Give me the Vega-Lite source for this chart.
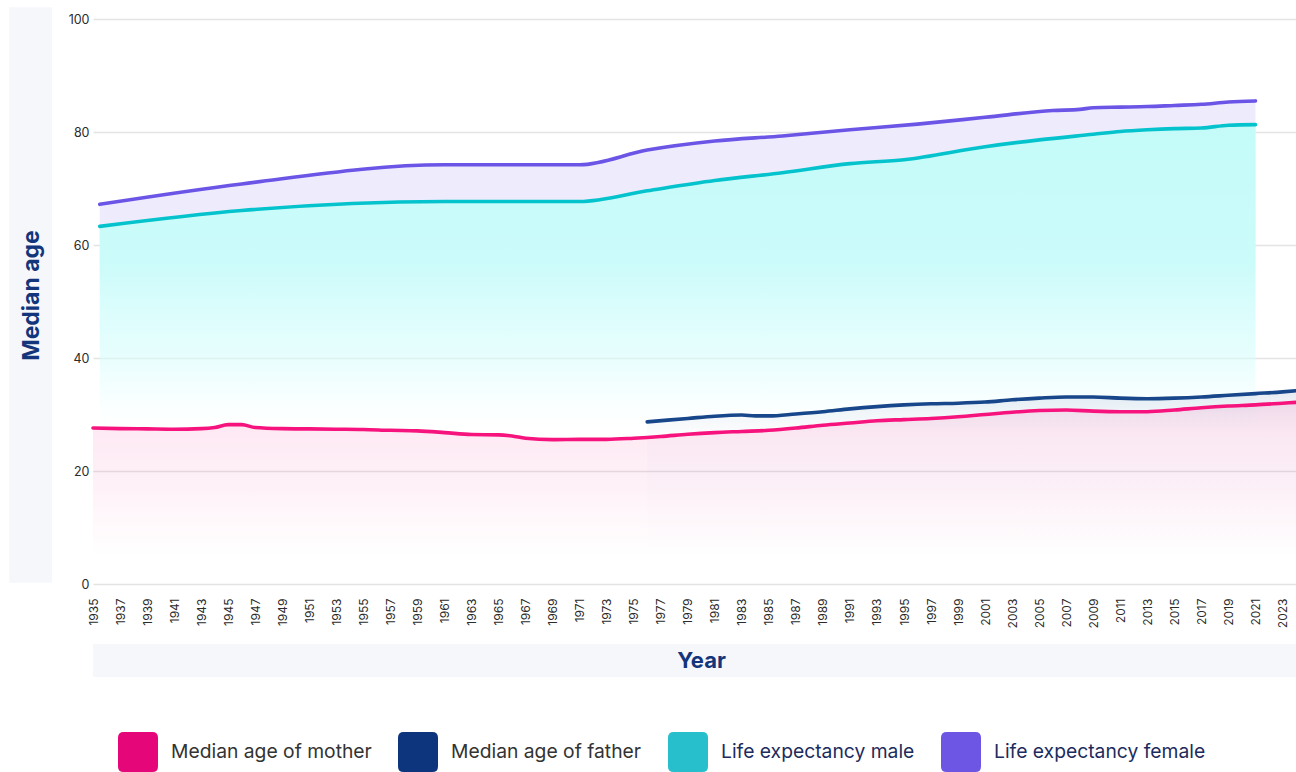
{
  "$schema": "https://vega.github.io/schema/vega-lite/v6.json",
  "width": 1203,
  "height": 565,
  "autosize": {"type": "none"},
  "padding": {"left": 93, "top": 19, "right": 0, "bottom": 188},
  "background": "white",
  "config": {
    "view": {"stroke": null},
    "font": "Inter",
    "axis": {"titleFont": "Inter", "labelOverlap": false},
    "axisX": {"labelOverlap": false}
  },
  "layer": [
    {
      "data": {"values": [{"band": "x"}]},
      "mark": {"type": "rect", "fill": "#2a3f9a", "fillOpacity": 0.045, "clip": false},
      "encoding": {
        "x": {"datum": 1935, "type": "quantitative", "title": "Year", "scale": {"domain": [1935, 2024], "nice": false, "zero": false},
          "axis": {
            "values": [1935,1937,1939,1941,1943,1945,1947,1949,1951,1953,1955,1957,1959,1961,1963,1965,1967,1969,1971,1973,1975,1977,1979,1981,1983,1985,1987,1989,1991,1993,1995,1997,1999,2001,2003,2005,2007,2009,2011,2013,2015,2017,2019,2021,2023],
            "format": "d", "grid": false, "domain": false, "ticks": false, "labelAngle": -90, "labelAlign": "right", "labelBaseline": "middle",
            "labelPadding": 14, "labelFontSize": 12, "labelColor": "#2b2b2b", "labelOverlap": false, "labelFlush": false,
            "titleFontSize": 22, "titleFontWeight": "bold", "titleColor": "#12357a", "titleX": 608, "titleY": 76, "titleBaseline": "middle", "titleAnchor": "middle"
          }
        },
        "x2": {"datum": 2024},
        "y": {"datum": -10.6, "type": "quantitative", "title": "Median age", "scale": {"domain": [0, 100], "nice": false},
          "axis": {
            "values": [0, 20, 40, 60, 80, 100], "grid": true, "gridColor": "#e4e4e4", "gridWidth": 1.6, "domain": false, "ticks": false,
            "labelPadding": 4, "labelFontSize": 12.5, "labelColor": "#2b2b2b", "labelOverlap": false,
            "titleFontSize": 23, "titleFontWeight": "bold", "titleColor": "#12357a", "titleAngle": -90, "titleX": -62, "titleY": 276, "titleBaseline": "middle", "titleAlign": "center"
          }
        },
        "y2": {"datum": -16.46}
      }
    },
    {
      "data": {"values": [{"band": "y"}]},
      "mark": {"type": "rect", "fill": "#2a3f9a", "fillOpacity": 0.045, "clip": false},
      "encoding": {
        "x": {"datum": 1928.8, "type": "quantitative", "title": "Year", "scale": {"domain": [1935, 2024], "nice": false, "zero": false},
          "axis": {
            "values": [1935,1937,1939,1941,1943,1945,1947,1949,1951,1953,1955,1957,1959,1961,1963,1965,1967,1969,1971,1973,1975,1977,1979,1981,1983,1985,1987,1989,1991,1993,1995,1997,1999,2001,2003,2005,2007,2009,2011,2013,2015,2017,2019,2021,2023],
            "format": "d", "grid": false, "domain": false, "ticks": false, "labelAngle": -90, "labelAlign": "right", "labelBaseline": "middle",
            "labelPadding": 14, "labelFontSize": 12, "labelColor": "#2b2b2b", "labelOverlap": false, "labelFlush": false,
            "titleFontSize": 22, "titleFontWeight": "bold", "titleColor": "#12357a", "titleX": 608, "titleY": 76, "titleBaseline": "middle", "titleAnchor": "middle"
          }
        },
        "x2": {"datum": 1931.97},
        "y": {"datum": 102.1, "type": "quantitative", "title": "Median age", "scale": {"domain": [0, 100], "nice": false},
          "axis": {
            "values": [0, 20, 40, 60, 80, 100], "grid": true, "gridColor": "#e4e4e4", "gridWidth": 1.6, "domain": false, "ticks": false,
            "labelPadding": 4, "labelFontSize": 12.5, "labelColor": "#2b2b2b", "labelOverlap": false,
            "titleFontSize": 23, "titleFontWeight": "bold", "titleColor": "#12357a", "titleAngle": -90, "titleX": -62, "titleY": 276, "titleBaseline": "middle", "titleAlign": "center"
          }
        },
        "y2": {"datum": 0.2}
      }
    },
    {
      "data": {
        "values": [
          {"year": 1935, "series": "Median age of mother", "value": 27.6},
          {"year": 1937, "series": "Median age of mother", "value": 27.5},
          {"year": 1939, "series": "Median age of mother", "value": 27.45},
          {"year": 1941, "series": "Median age of mother", "value": 27.4},
          {"year": 1943, "series": "Median age of mother", "value": 27.5},
          {"year": 1944, "series": "Median age of mother", "value": 27.7},
          {"year": 1945, "series": "Median age of mother", "value": 28.2},
          {"year": 1946, "series": "Median age of mother", "value": 28.2},
          {"year": 1947, "series": "Median age of mother", "value": 27.7},
          {"year": 1949, "series": "Median age of mother", "value": 27.5},
          {"year": 1951, "series": "Median age of mother", "value": 27.45},
          {"year": 1953, "series": "Median age of mother", "value": 27.4},
          {"year": 1955, "series": "Median age of mother", "value": 27.35},
          {"year": 1957, "series": "Median age of mother", "value": 27.2},
          {"year": 1959, "series": "Median age of mother", "value": 27.1},
          {"year": 1961, "series": "Median age of mother", "value": 26.8},
          {"year": 1963, "series": "Median age of mother", "value": 26.45},
          {"year": 1965, "series": "Median age of mother", "value": 26.4},
          {"year": 1966, "series": "Median age of mother", "value": 26.2},
          {"year": 1967, "series": "Median age of mother", "value": 25.8},
          {"year": 1969, "series": "Median age of mother", "value": 25.55},
          {"year": 1971, "series": "Median age of mother", "value": 25.6},
          {"year": 1973, "series": "Median age of mother", "value": 25.6},
          {"year": 1975, "series": "Median age of mother", "value": 25.8},
          {"year": 1977, "series": "Median age of mother", "value": 26.1},
          {"year": 1979, "series": "Median age of mother", "value": 26.5},
          {"year": 1981, "series": "Median age of mother", "value": 26.8},
          {"year": 1983, "series": "Median age of mother", "value": 27.0},
          {"year": 1985, "series": "Median age of mother", "value": 27.2},
          {"year": 1987, "series": "Median age of mother", "value": 27.6},
          {"year": 1989, "series": "Median age of mother", "value": 28.1},
          {"year": 1991, "series": "Median age of mother", "value": 28.5},
          {"year": 1993, "series": "Median age of mother", "value": 28.9},
          {"year": 1995, "series": "Median age of mother", "value": 29.1},
          {"year": 1997, "series": "Median age of mother", "value": 29.3},
          {"year": 1999, "series": "Median age of mother", "value": 29.6},
          {"year": 2001, "series": "Median age of mother", "value": 30.0},
          {"year": 2003, "series": "Median age of mother", "value": 30.4},
          {"year": 2005, "series": "Median age of mother", "value": 30.7},
          {"year": 2007, "series": "Median age of mother", "value": 30.8},
          {"year": 2009, "series": "Median age of mother", "value": 30.6},
          {"year": 2011, "series": "Median age of mother", "value": 30.5},
          {"year": 2013, "series": "Median age of mother", "value": 30.5},
          {"year": 2015, "series": "Median age of mother", "value": 30.8},
          {"year": 2017, "series": "Median age of mother", "value": 31.2},
          {"year": 2019, "series": "Median age of mother", "value": 31.5},
          {"year": 2021, "series": "Median age of mother", "value": 31.7},
          {"year": 2023, "series": "Median age of mother", "value": 32.0},
          {"year": 2024, "series": "Median age of mother", "value": 32.15},
          {"year": 1976, "series": "Median age of father", "value": 28.7},
          {"year": 1979, "series": "Median age of father", "value": 29.3},
          {"year": 1981, "series": "Median age of father", "value": 29.7},
          {"year": 1983, "series": "Median age of father", "value": 29.9},
          {"year": 1984, "series": "Median age of father", "value": 29.75},
          {"year": 1985, "series": "Median age of father", "value": 29.75},
          {"year": 1987, "series": "Median age of father", "value": 30.1},
          {"year": 1989, "series": "Median age of father", "value": 30.5},
          {"year": 1991, "series": "Median age of father", "value": 31.0},
          {"year": 1993, "series": "Median age of father", "value": 31.4},
          {"year": 1995, "series": "Median age of father", "value": 31.7},
          {"year": 1997, "series": "Median age of father", "value": 31.9},
          {"year": 1999, "series": "Median age of father", "value": 32.0},
          {"year": 2001, "series": "Median age of father", "value": 32.2},
          {"year": 2003, "series": "Median age of father", "value": 32.6},
          {"year": 2005, "series": "Median age of father", "value": 32.9},
          {"year": 2007, "series": "Median age of father", "value": 33.1},
          {"year": 2009, "series": "Median age of father", "value": 33.1},
          {"year": 2011, "series": "Median age of father", "value": 32.9},
          {"year": 2013, "series": "Median age of father", "value": 32.8},
          {"year": 2015, "series": "Median age of father", "value": 32.9},
          {"year": 2017, "series": "Median age of father", "value": 33.1},
          {"year": 2019, "series": "Median age of father", "value": 33.4},
          {"year": 2021, "series": "Median age of father", "value": 33.7},
          {"year": 2023, "series": "Median age of father", "value": 34.0},
          {"year": 2024, "series": "Median age of father", "value": 34.2},
          {"year": 1935.5, "series": "Life expectancy male", "value": 63.3},
          {"year": 1946, "series": "Life expectancy male", "value": 66.1},
          {"year": 1961, "series": "Life expectancy male", "value": 67.7},
          {"year": 1971, "series": "Life expectancy male", "value": 67.7},
          {"year": 1976, "series": "Life expectancy male", "value": 69.6},
          {"year": 1981, "series": "Life expectancy male", "value": 71.4},
          {"year": 1986, "series": "Life expectancy male", "value": 72.8},
          {"year": 1991, "series": "Life expectancy male", "value": 74.4},
          {"year": 1995, "series": "Life expectancy male", "value": 75.1},
          {"year": 2001, "series": "Life expectancy male", "value": 77.4},
          {"year": 2005, "series": "Life expectancy male", "value": 78.6},
          {"year": 2009, "series": "Life expectancy male", "value": 79.6},
          {"year": 2011, "series": "Life expectancy male", "value": 80.1},
          {"year": 2013, "series": "Life expectancy male", "value": 80.4},
          {"year": 2015, "series": "Life expectancy male", "value": 80.6},
          {"year": 2017, "series": "Life expectancy male", "value": 80.7},
          {"year": 2019, "series": "Life expectancy male", "value": 81.2},
          {"year": 2021, "series": "Life expectancy male", "value": 81.3},
          {"year": 1935.5, "series": "Life expectancy female", "value": 67.2},
          {"year": 1946, "series": "Life expectancy female", "value": 70.8},
          {"year": 1961, "series": "Life expectancy female", "value": 74.2},
          {"year": 1971, "series": "Life expectancy female", "value": 74.2},
          {"year": 1976, "series": "Life expectancy female", "value": 76.8},
          {"year": 1981, "series": "Life expectancy female", "value": 78.4},
          {"year": 1986, "series": "Life expectancy female", "value": 79.3},
          {"year": 1991, "series": "Life expectancy female", "value": 80.4},
          {"year": 1996, "series": "Life expectancy female", "value": 81.4},
          {"year": 2001, "series": "Life expectancy female", "value": 82.6},
          {"year": 2006, "series": "Life expectancy female", "value": 83.8},
          {"year": 2008, "series": "Life expectancy female", "value": 84.0},
          {"year": 2009, "series": "Life expectancy female", "value": 84.3},
          {"year": 2011, "series": "Life expectancy female", "value": 84.4},
          {"year": 2013, "series": "Life expectancy female", "value": 84.5},
          {"year": 2015, "series": "Life expectancy female", "value": 84.7},
          {"year": 2017, "series": "Life expectancy female", "value": 84.9},
          {"year": 2019, "series": "Life expectancy female", "value": 85.3},
          {"year": 2021, "series": "Life expectancy female", "value": 85.5}
        ]
      },
      "encoding": {
        "x": {
          "field": "year",
          "type": "quantitative",
          "title": "Year",
          "scale": {"domain": [1935, 2024], "nice": false, "zero": false},
          "axis": {
            "values": [1935,1937,1939,1941,1943,1945,1947,1949,1951,1953,1955,1957,1959,1961,1963,1965,1967,1969,1971,1973,1975,1977,1979,1981,1983,1985,1987,1989,1991,1993,1995,1997,1999,2001,2003,2005,2007,2009,2011,2013,2015,2017,2019,2021,2023],
            "format": "d", "grid": false, "domain": false, "ticks": false, "labelAngle": -90, "labelAlign": "right", "labelBaseline": "middle",
            "labelPadding": 14, "labelFontSize": 12, "labelColor": "#2b2b2b", "labelOverlap": false, "labelFlush": false,
            "titleFontSize": 22, "titleFontWeight": "bold", "titleColor": "#12357a", "titleX": 608, "titleY": 76, "titleBaseline": "middle", "titleAnchor": "middle"
          }
        },
        "y": {
          "field": "value",
          "type": "quantitative",
          "title": "Median age",
          "scale": {"domain": [0, 100], "nice": false},
          "axis": {
            "values": [0, 20, 40, 60, 80, 100], "grid": true, "gridColor": "#e4e4e4", "gridWidth": 1.6, "domain": false, "ticks": false,
            "labelPadding": 4, "labelFontSize": 12.5, "labelColor": "#2b2b2b", "labelOverlap": false,
            "titleFontSize": 23, "titleFontWeight": "bold", "titleColor": "#12357a", "titleAngle": -90, "titleX": -62, "titleY": 276, "titleBaseline": "middle", "titleAlign": "center"
          }
        }
      },
      "layer": [
        {
          "transform": [{"filter": "datum.series == 'Life expectancy female'"}],
          "mark": {
            "type": "area",
            "interpolate": "monotone",
            "fill": {
              "gradient": "linear", "x1": 0, "y1": 0, "x2": 0, "y2": 1,
              "stops": [
                {"offset": 0, "color": "rgba(238,235,253,1)"},
                {"offset": 0.32, "color": "rgba(238,235,253,1)"},
                {"offset": 0.42, "color": "rgba(238,235,253,0)"},
                {"offset": 1, "color": "rgba(238,235,253,0)"}
              ]
            }
          }
        },
        {
          "transform": [{"filter": "datum.series == 'Life expectancy male'"}],
          "mark": {
            "type": "area",
            "interpolate": "monotone",
            "fill": {
              "gradient": "linear", "x1": 0, "y1": 0, "x2": 0, "y2": 1,
              "stops": [
                {"offset": 0, "color": "rgba(196,251,249,1)"},
                {"offset": 0.3, "color": "rgba(202,252,250,0.97)"},
                {"offset": 0.5, "color": "rgba(214,253,252,0.6)"},
                {"offset": 0.66, "color": "rgba(230,255,255,0)"},
                {"offset": 1, "color": "rgba(230,255,255,0)"}
              ]
            }
          }
        },
        {
          "transform": [{"filter": "datum.series == 'Median age of mother'"}],
          "mark": {
            "type": "area",
            "interpolate": "monotone",
            "fill": {
              "gradient": "linear", "x1": 0, "y1": 0, "x2": 0, "y2": 1,
              "stops": [
                {"offset": 0, "color": "rgba(240,20,130,0.11)"},
                {"offset": 0.45, "color": "rgba(240,20,130,0.06)"},
                {"offset": 0.85, "color": "rgba(240,20,130,0)"},
                {"offset": 1, "color": "rgba(240,20,130,0)"}
              ]
            }
          }
        },
        {
          "transform": [{"filter": "datum.series == 'Median age of father'"}],
          "mark": {
            "type": "area",
            "interpolate": "monotone",
            "fill": {
              "gradient": "linear", "x1": 0, "y1": 0, "x2": 0, "y2": 1,
              "stops": [
                {"offset": 0, "color": "rgba(13,53,125,0.1)"},
                {"offset": 0.12, "color": "rgba(13,53,125,0.045)"},
                {"offset": 0.22, "color": "rgba(13,53,125,0.015)"},
                {"offset": 0.9, "color": "rgba(13,53,125,0)"},
                {"offset": 1, "color": "rgba(13,53,125,0)"}
              ]
            }
          }
        },
        {
          "mark": {"type": "line", "strokeWidth": 3.6, "interpolate": "monotone", "strokeCap": "round"},
          "encoding": {
            "detail": {"field": "series"},
            "color": {
              "field": "series",
              "type": "nominal",
              "scale": {
                "domain": ["Median age of mother", "Median age of father", "Life expectancy male", "Life expectancy female"],
                "range": ["#f7137d", "#17468a", "#05c3cc", "#6b55e6"]
              },
              "legend": {
                "orient": "none",
                "legendX": 25,
                "legendY": 713,
                "direction": "horizontal",
                "title": null,
                "symbolType": "M-0.72,-1H0.72Q1,-1,1,-0.72V0.72Q1,1,0.72,1H-0.72Q-1,1,-1,0.72V-0.72Q-1,-1,-0.72,-1Z",
                "symbolSize": 1600,
                "symbolStrokeWidth": 0,
                "labelFontSize": 19.3,
                "labelOffset": 13,
                "columnPadding": 26,
                "labelLimit": 400,
                "encode": {
                  "symbols": {
                    "update": {
                      "fill": {"signal": "datum.value == 'Median age of mother' ? '#e5077a' : datum.value == 'Median age of father' ? '#0d357d' : datum.value == 'Life expectancy male' ? '#28bfcd' : '#6d56e4'"},
                      "strokeWidth": {"value": 0}
                    }
                  },
                  "labels": {
                    "update": {
                      "fill": {"signal": "indexof(datum.value, 'Life') == 0 ? '#1c2b5e' : '#333333'"}
                    }
                  }
                }
              }
            }
          }
        }
      ]
    }
  ]
}
